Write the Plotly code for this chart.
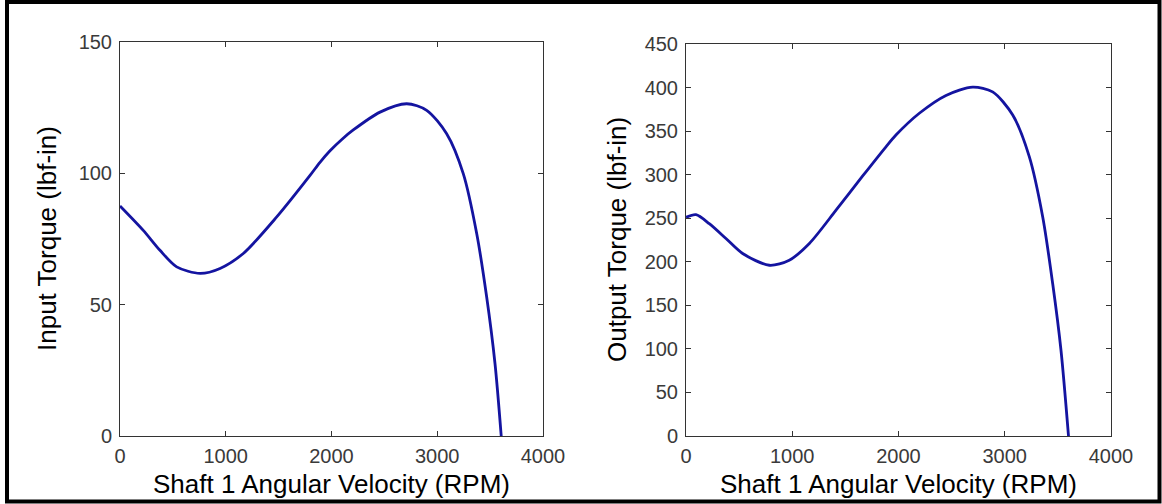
import plotly.graph_objects as go

# ---- data ----
rpm_in = [0, 220, 378, 536, 757, 946, 1166, 1482, 1797, 1891, 1986, 2100, 2206,
          2459, 2711, 2900, 3089, 3246, 3373, 3467, 3546, 3605]
torque_in = [87.6, 78.3, 70.7, 64.4, 61.9, 63.8, 69.5, 83.4, 99.2, 104.2, 108.6,
             113.0, 116.5, 123.3, 126.5, 124.0, 115.1, 99.9, 77.1, 53.0, 27.6, 0.0]

rpm_out = [0, 94, 219, 376, 533, 784, 972, 1161, 1412, 1663, 1882, 1976, 2196,
           2447, 2698, 2886, 3075, 3231, 3357, 3451, 3529, 3600]
torque_out = [251.0, 254.0, 243.7, 226.7, 209.5, 196.0, 201.8, 221.0, 259.2, 298.5,
              332.0, 345.5, 370.5, 391.0, 400.5, 395.0, 368.5, 320.7, 251.7, 175.0,
              98.7, 0.0]

x_ticks = [0, 1000, 2000, 3000, 4000]
y_ticks_in = [0, 50, 100, 150]
y_ticks_out = [0, 50, 100, 150, 200, 250, 300, 350, 400, 450]

x_title = "Shaft 1 Angular Velocity (RPM)"
y_title_in = "Input Torque (lbf-in)"
y_title_out = "Output Torque (lbf-in)"

# ---- layout geometry (pixels) ----
W, H = 1162, 504
FONT = "Liberation Sans, Arial, sans-serif"
LINE_COLOR = "#1414a0"

def px(x):
    return x / W

def py(y):
    return 1 - y / H

fig = go.Figure()
fig.add_trace(go.Scatter(x=rpm_in, y=torque_in, mode="lines",
                         line=dict(color=LINE_COLOR, width=2.8, shape="spline", smoothing=0.8),
                         xaxis="x", yaxis="y", showlegend=False, hoverinfo="x+y"))
fig.add_trace(go.Scatter(x=rpm_out, y=torque_out, mode="lines",
                         line=dict(color=LINE_COLOR, width=2.8, shape="spline", smoothing=0.8),
                         xaxis="x2", yaxis="y2", showlegend=False, hoverinfo="x+y"))

axis_common = dict(
    showgrid=False, zeroline=False, showline=True, linecolor="#333333", linewidth=1,
    mirror="ticks", ticks="inside", ticklen=5, tickwidth=1, tickcolor="#333333",
    tickfont=dict(family=FONT, size=20, color="#3a3a3a"), automargin=False,
)

fig.update_layout(
    width=W, height=H,
    margin=dict(l=0, r=0, t=0, b=0, pad=0, autoexpand=False),
    paper_bgcolor="white", plot_bgcolor="white",
    xaxis=dict(axis_common, domain=[px(120), px(543)], range=[0, 4000],
               tickvals=x_ticks, anchor="y", ticklabelstandoff=2),
    yaxis=dict(axis_common, domain=[py(436), py(42)], range=[0, 150],
               tickvals=y_ticks_in, anchor="x", ticklabelstandoff=3),
    xaxis2=dict(axis_common, domain=[px(686), px(1111)], range=[0, 4000],
                tickvals=x_ticks, anchor="y2", ticklabelstandoff=2),
    yaxis2=dict(axis_common, domain=[py(436), py(44)], range=[0, 450],
                tickvals=y_ticks_out, anchor="x2", ticklabelstandoff=3),
)

title_font = dict(family=FONT, size=26, color="black")
annotations = [
    dict(text=x_title, x=px(331.5), y=py(484), xref="paper", yref="paper",
         showarrow=False, font=title_font, xanchor="center", yanchor="middle"),
    dict(text=x_title, x=px(898.5), y=py(484), xref="paper", yref="paper",
         showarrow=False, font=title_font, xanchor="center", yanchor="middle"),
    dict(text=y_title_in, x=px(47), y=py(239), xref="paper", yref="paper",
         showarrow=False, font=title_font, textangle=-90, xanchor="center", yanchor="middle"),
    dict(text=y_title_out, x=px(617), y=py(240), xref="paper", yref="paper",
         showarrow=False, font=title_font, textangle=-90, xanchor="center", yanchor="middle"),
]
fig.update_layout(annotations=annotations)

# outer black frame
fig.add_shape(type="rect", xref="paper", yref="paper",
              x0=px(7), x1=px(1159.5), y0=py(501.5), y1=py(2),
              line=dict(color="black", width=4), fillcolor="rgba(0,0,0,0)", layer="above")

fig.write_html(
    "out.html",
    config={"displayModeBar": False},
    post_script="document.body.style.margin='0px';document.body.style.overflow='hidden';",
)
